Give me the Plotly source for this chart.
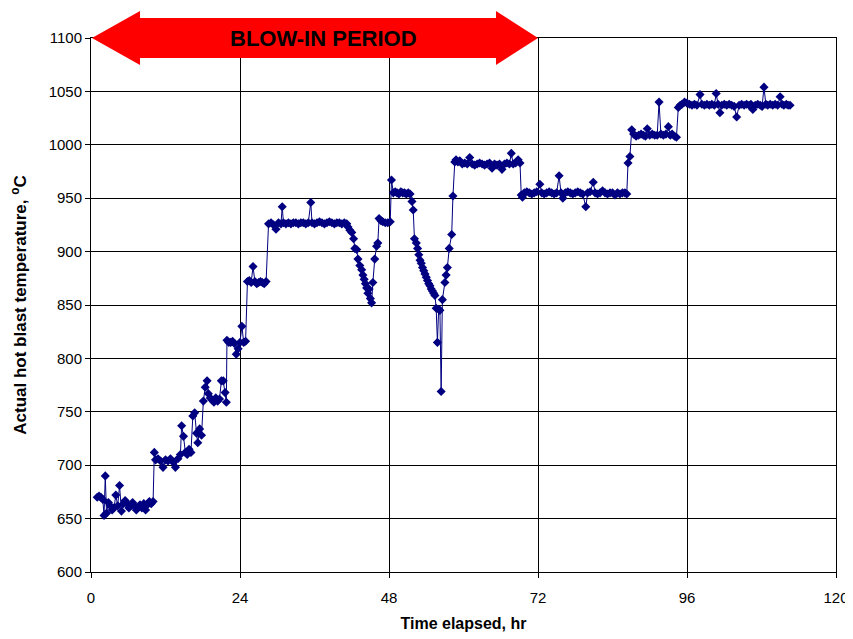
import plotly.graph_objects as go

# ---- data (hours elapsed, hot blast temperature degC) ----
t_a = [1.0, 1.3, 1.6, 1.9, 2.1, 2.3, 2.5, 2.8, 3.1, 3.4, 3.7, 4.0, 4.3, 4.6, 4.9, 5.2,
       5.5, 5.8, 6.1, 6.4, 6.7, 7.0, 7.3, 7.6, 7.9, 8.2, 8.5, 8.8, 9.1, 9.4, 9.7, 10.0]
v_a = [670, 671, 670, 668, 653, 690, 655, 665, 662, 658, 660, 672, 662, 681, 657, 664,
       667, 664, 660, 662, 665, 662, 658, 661, 663, 660, 664, 658, 663, 666, 664, 666]

t_b = [10.2, 10.4, 10.8, 11.2, 11.6, 12.0, 12.4, 12.8, 13.2, 13.6, 14.0, 14.4, 14.6, 14.9,
       15.2, 15.5, 15.8, 16.1, 16.4, 16.7, 17.0, 17.2, 17.5, 17.8, 18.1, 18.4, 18.7, 18.9,
       19.2, 19.5, 19.8, 20.1, 20.4, 20.7, 21.0, 21.3, 21.6, 21.8]
v_b = [712, 705, 706, 704, 698, 705, 704, 706, 703, 698, 706, 710, 737, 727,
       712, 710, 715, 712, 746, 749, 730, 721, 734, 728, 760, 773, 779, 767,
       763, 761, 759, 763, 760, 762, 779, 779, 768, 759]

t_c = [21.9, 22.2, 22.5, 22.8, 23.1, 23.4, 23.7, 24.0, 24.3, 24.6, 24.9]
v_c = [817, 815, 815, 816, 814, 804, 809, 815, 830, 815, 816]

t_d = [25.2, 25.5, 25.8, 26.1, 26.4, 26.7, 27.0, 27.3, 27.6, 27.9, 28.2]
v_d = [872, 873, 871, 886, 872, 870, 871, 872, 871, 870, 872]

t_e = [28.6, 29.0, 29.4, 29.8, 30.2, 30.6, 30.8, 31.0, 31.4, 31.8, 32.2, 32.6, 33.0, 33.4,
       33.8, 34.2, 34.6, 35.0, 35.4, 35.6, 36.0, 36.4, 36.8, 37.2, 37.6, 38.0, 38.4, 38.8,
       39.2, 39.6, 40.0, 40.4, 40.8, 41.2]
v_e = [926, 927, 925, 921, 927, 926, 942, 927, 926, 927, 926, 927, 927, 926,
       927, 927, 926, 927, 946, 927, 926, 927, 928, 927, 926, 927, 928, 927,
       926, 927, 927, 926, 927, 926]

t_f = [41.4, 41.7, 42.0, 42.3, 42.5, 42.8, 43.0, 43.3, 43.6, 43.8, 44.0, 44.2, 44.4, 44.6,
       44.8, 45.0, 45.2, 45.4, 45.7, 46.0, 46.2, 46.4, 46.7, 47.0, 47.4, 47.8]
v_f = [923, 920, 918, 912, 903, 902, 893, 887, 883, 878, 874, 870, 866, 861,
       865, 856, 852, 871, 893, 905, 908, 931, 929, 928, 927, 927]

t_g = [48.2, 48.4, 48.7, 49.0, 49.3, 49.6, 49.9, 50.2, 50.5, 50.8, 51.1, 51.4]
v_g = [928, 967, 955, 956, 955, 954, 956, 955, 955, 954, 955, 954]

t_h = [51.7, 51.9, 52.1, 52.4, 52.6, 52.8, 53.0, 53.2, 53.4, 53.6, 53.8, 54.0, 54.2, 54.4,
       54.6, 54.8, 55.0, 55.2, 55.4, 55.6, 55.8, 56.0, 56.2, 56.4]
v_h = [947, 939, 912, 908, 903, 897, 892, 889, 885, 882, 879, 876, 873, 870,
       868, 865, 863, 861, 859, 847, 815, 846, 845, 769]

t_i = [56.6, 57.0, 57.2, 57.4, 57.7, 58.1, 58.3, 58.6]
v_i = [855, 871, 878, 885, 903, 916, 952, 984]

t_j = [58.8, 59.1, 59.4, 59.8, 60.2, 60.6, 61.0, 61.4, 61.8, 62.2, 62.6, 63.0, 63.4, 63.8,
       64.2, 64.6, 65.0, 65.4, 65.8, 66.2, 66.6, 67.0, 67.4, 67.7, 68.0, 68.4, 68.8, 69.1]
v_j = [986, 984, 985, 982, 983, 982, 988, 982, 981, 982, 983, 982, 981, 982,
       983, 978, 982, 981, 982, 977, 982, 983, 982, 992, 982, 983, 986, 983]

t_k = [69.3, 69.5, 69.8, 70.2, 70.6, 71.0, 71.4, 71.8, 72.3, 72.6, 73.0, 73.4, 73.8, 74.2,
       74.6, 75.0, 75.4, 75.7, 76.0, 76.4, 76.8, 77.2, 77.6, 78.0, 78.4, 78.8, 79.2, 79.7,
       80.0, 80.4, 80.9, 81.2, 81.6, 82.0, 82.4, 82.8, 83.2, 83.6, 84.0, 84.4, 84.8, 85.2,
       85.6, 86.0, 86.3]
v_k = [953, 951, 955, 956, 955, 954, 955, 956, 963, 955, 954, 955, 956, 955,
       954, 955, 971, 955, 950, 955, 956, 955, 954, 955, 956, 955, 954, 942,
       955, 956, 965, 955, 954, 955, 957, 955, 954, 955, 955, 953, 955, 954,
       955, 955, 954]

t_l = [86.5, 86.8, 87.1, 87.4, 87.8, 88.2, 88.6, 89.0, 89.3, 89.6, 90.0, 90.4, 90.8, 91.2,
       91.5, 91.8, 92.2, 92.6, 93.0, 93.3, 93.6, 94.0, 94.3]
v_l = [983, 989, 1014, 1010, 1008, 1009, 1010, 1009, 1008, 1015, 1009, 1010, 1009, 1009,
       1040, 1010, 1009, 1010, 1017, 1009, 1010, 1008, 1007]

t_m = [94.6, 94.9, 95.2, 95.6, 96.0, 96.4, 96.8, 97.2, 97.6, 98.1, 98.4, 98.8, 99.2, 99.6,
       100.0, 100.4, 100.7, 101.0, 101.3, 101.6, 102.0, 102.4, 102.8, 103.2, 103.6, 104.0,
       104.4, 104.8, 105.2, 105.6, 106.0, 106.3, 106.6, 107.0, 107.4, 107.8, 108.1, 108.4,
       108.7, 109.0, 109.4, 109.8, 110.2, 110.6, 111.0, 111.3, 111.6, 112.0, 112.3, 112.6]
v_m = [1035, 1037, 1038, 1040, 1039, 1038, 1037, 1038, 1037, 1047, 1038, 1037, 1038, 1037,
       1038, 1037, 1048, 1038, 1030, 1037, 1038, 1037, 1038, 1037, 1036, 1026,
       1037, 1038, 1037, 1038, 1037, 1038, 1033, 1037, 1038, 1037, 1036, 1054,
       1038, 1037, 1038, 1037, 1038, 1037, 1045, 1038, 1037, 1038, 1037, 1037]

hours = t_a + t_b + t_c + t_d + t_e + t_f + t_g + t_h + t_i + t_j + t_k + t_l + t_m
temps = v_a + v_b + v_c + v_d + v_e + v_f + v_g + v_h + v_i + v_j + v_k + v_l + v_m

x_ticks = [0, 24, 48, 72, 96, 120]
y_ticks = [600, 650, 700, 750, 800, 850, 900, 950, 1000, 1050, 1100]

NAVY = "#000080"
FONT = "Liberation Sans, Arial"

fig = go.Figure()
fig.add_trace(go.Scatter(
    x=hours, y=temps, mode="lines+markers",
    line=dict(color=NAVY, width=1),
    marker=dict(symbol="diamond", size=7, color=NAVY, line=dict(width=0)),
    showlegend=False,
))

# blow-in period double arrow (paper coordinates)
arrow_path = ("M 0.0013 1.0 L 0.0658 1.0506 L 0.0658 1.0375 L 0.5436 1.0375 "
              "L 0.5436 1.0506 L 0.6000 1.0 L 0.5436 0.9494 L 0.5436 0.9625 "
              "L 0.0658 0.9625 L 0.0658 0.9494 Z")
fig.add_shape(type="path", xref="paper", yref="paper", path=arrow_path,
              fillcolor="#FF0000", line=dict(width=0), layer="above")
fig.add_annotation(xref="paper", yref="paper", x=0.312, y=1.0, text="<b>BLOW-IN PERIOD</b>",
                   showarrow=False, font=dict(family=FONT, size=22, color="black"),
                   xanchor="center", yanchor="middle")

tick_font = dict(family=FONT, size=15, color="black")
# page body has an 8px margin, so the figure is sized to fill the 853x639 window
fig.update_layout(
    width=845, height=631,
    margin=dict(l=83, r=17, t=30, b=67, autoexpand=False),
    paper_bgcolor="white", plot_bgcolor="white",
    font=tick_font,
    xaxis=dict(
        range=[0, 120], tickvals=x_ticks, ticktext=[str(v) for v in x_ticks],
        showgrid=True, gridcolor="black", gridwidth=1,
        showline=True, linecolor="black", linewidth=1, mirror=True,
        ticks="outside", ticklen=5, tickcolor="black", ticklabelstandoff=7,
        zeroline=False, tickfont=tick_font, automargin=False,
        title=dict(text="<b>Time elapsed, hr</b>", font=dict(family=FONT, size=16, color="black"),
                   standoff=12),
    ),
    yaxis=dict(
        range=[600, 1100], tickvals=y_ticks, ticktext=[str(v) for v in y_ticks],
        showgrid=True, gridcolor="black", gridwidth=1,
        showline=True, linecolor="black", linewidth=1, mirror=True,
        ticks="outside", ticklen=5, tickcolor="black",
        zeroline=False, tickfont=tick_font, automargin=False,
        title=dict(text="<b>Actual hot blast temperature, <sup>o</sup>C</b>",
                   font=dict(family=FONT, size=17, color="black"), standoff=17),
    ),
)

fig.write_html("out.html")
